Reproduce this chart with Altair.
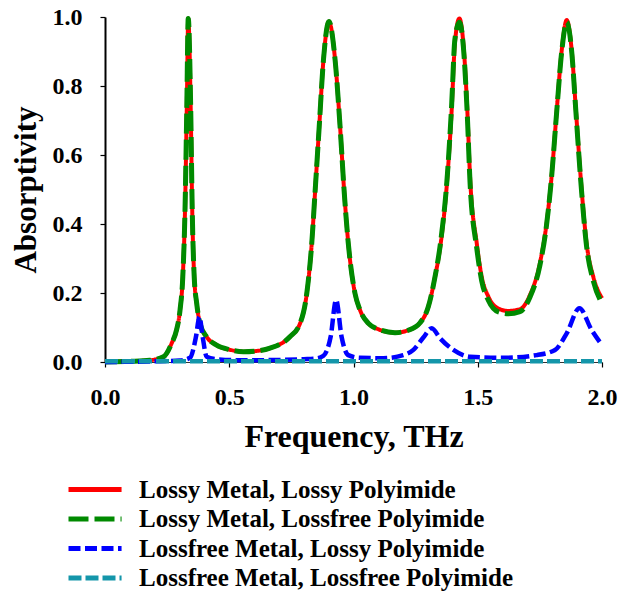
import altair as alt
import pandas as pd

# Series names
S1 = "Lossy Metal, Lossy Polyimide"
S2 = "Lossy Metal, Lossfree Polyimide"
S3 = "Lossfree Metal, Lossy Polyimide"
S4 = "Lossfree Metal, Lossfree Polyimide"

# Lossy metal curves (shared frequency grid), THz
freq_lossy = [0.00, 0.10, 0.18, 0.235, 0.268, 0.288, 0.302, 0.313, 0.322, 0.329,
              0.335, 0.345, 0.351, 0.359, 0.369, 0.382, 0.409, 0.449, 0.50, 0.557,
              0.61, 0.664, 0.744, 0.785, 0.812, 0.832, 0.845, 0.862, 0.879, 0.901,
              0.926, 0.946, 0.963, 0.979, 1.006, 1.026, 1.06, 1.10, 1.167, 1.22,
              1.268, 1.301, 1.328, 1.351, 1.378, 1.395, 1.408, 1.426, 1.442, 1.458,
              1.469, 1.496, 1.516, 1.543, 1.583, 1.623, 1.670, 1.710, 1.750, 1.777,
              1.797, 1.818, 1.838, 1.858, 1.878, 1.895, 1.914, 1.938, 1.965, 2.000]
abs_lossy_lossy = [0.000, 0.002, 0.005, 0.015, 0.054, 0.093, 0.151, 0.247, 0.441, 0.730,
                   0.996, 0.730, 0.441, 0.247, 0.170, 0.112, 0.073, 0.049, 0.036, 0.030,
                   0.032, 0.040, 0.073, 0.112, 0.199, 0.344, 0.489, 0.682, 0.875, 0.987,
                   0.875, 0.682, 0.489, 0.344, 0.199, 0.151, 0.112, 0.095, 0.085, 0.092,
                   0.114, 0.160, 0.247, 0.344, 0.537, 0.730, 0.924, 0.996, 0.924, 0.730,
                   0.537, 0.344, 0.247, 0.189, 0.155, 0.148, 0.153, 0.194, 0.286, 0.402,
                   0.537, 0.730, 0.904, 0.991, 0.904, 0.730, 0.537, 0.344, 0.247, 0.185]
abs_lossy_lossfree = [0.000, 0.002, 0.005, 0.015, 0.054, 0.093, 0.151, 0.247, 0.441, 0.730,
                      0.996, 0.730, 0.441, 0.247, 0.170, 0.112, 0.073, 0.049, 0.036, 0.030,
                      0.032, 0.040, 0.073, 0.112, 0.199, 0.344, 0.489, 0.682, 0.875, 0.987,
                      0.875, 0.682, 0.489, 0.344, 0.199, 0.151, 0.112, 0.095, 0.085, 0.092,
                      0.114, 0.160, 0.247, 0.350, 0.545, 0.745, 0.935, 0.985, 0.915, 0.715,
                      0.520, 0.330, 0.235, 0.178, 0.145, 0.140, 0.146, 0.188, 0.280, 0.398,
                      0.535, 0.728, 0.900, 0.985, 0.900, 0.725, 0.530, 0.335, 0.235, 0.170]

# Lossfree metal, lossy polyimide
freq_lf_lossy = [0.00, 0.20, 0.30, 0.342, 0.366, 0.380, 0.393, 0.409, 0.45, 0.55,
                 0.70, 0.80, 0.85, 0.879, 0.908, 0.930, 0.952, 0.979, 1.026, 1.12,
                 1.20, 1.241, 1.281, 1.315, 1.348, 1.402, 1.469, 1.60, 1.737, 1.811,
                 1.858, 1.909, 1.958, 2.000]
abs_lf_lossy = [0.000, 0.002, 0.004, 0.012, 0.073, 0.131, 0.073, 0.015, 0.008, 0.005,
                0.006, 0.008, 0.010, 0.018, 0.073, 0.180, 0.073, 0.020, 0.012, 0.011,
                0.020, 0.035, 0.071, 0.098, 0.069, 0.035, 0.015, 0.012, 0.020, 0.035,
                0.083, 0.156, 0.093, 0.049]

# Lossfree metal, lossfree polyimide
freq_lf_lf = [0.0, 0.5, 1.0, 1.5, 2.0]
abs_lf_lf = [0.002, 0.002, 0.002, 0.002, 0.002]

series_names = [S1, S2, S3, S4]
series_colors = ["#ff0000", "#008a00", "#0000ff", "#1496aa"]
series_dash = [[1, 0], [20, 6], [12, 4.5], [13, 4]]
series_width = [4, 5, 4.5, 4.5]

rows = []
for f, a in zip(freq_lossy, abs_lossy_lossy):
    rows.append({"freq": f, "absorb": a, "series": S1})
for f, a in zip(freq_lossy, abs_lossy_lossfree):
    rows.append({"freq": f, "absorb": a, "series": S2})
for f, a in zip(freq_lf_lossy, abs_lf_lossy):
    rows.append({"freq": f, "absorb": a, "series": S3})
for f, a in zip(freq_lf_lf, abs_lf_lf):
    rows.append({"freq": f, "absorb": a, "series": S4})
df = pd.DataFrame(rows)

FONT = "Liberation Serif"

x_enc = alt.X(
    "freq:Q",
    scale=alt.Scale(domain=[0, 2], nice=False, zero=False),
    axis=alt.Axis(values=[0, 0.5, 1.0, 1.5, 2.0], format=".1f", title="Frequency, THz",
                  domainWidth=1.2, domainColor="#333333", titlePadding=12,
                  labelFlush=False, titleFontSize=32),
)
y_enc = alt.Y(
    "absorb:Q",
    scale=alt.Scale(domain=[0, 1], nice=False),
    axis=alt.Axis(values=[0, 0.2, 0.4, 0.6, 0.8, 1.0], format=".1f", title="Absorptivity",
                  domainWidth=2, domainColor="black", titlePadding=10, titleFontSize=31),
)
color_enc = alt.Color(
    "series:N",
    scale=alt.Scale(domain=series_names, range=series_colors),
    title=None,
)
dash_enc = alt.StrokeDash(
    "series:N",
    scale=alt.Scale(domain=series_names, range=series_dash),
    title=None,
)

layers = []
for name, w in zip(series_names, series_width):
    layers.append(
        alt.Chart(df)
        .transform_filter(alt.datum.series == name)
        .mark_line(strokeWidth=w, interpolate="monotone", strokeCap="butt", strokeJoin="round")
        .encode(x=x_enc, y=y_enc, color=color_enc, strokeDash=dash_enc)
    )

chart = (
    alt.layer(*layers)
    .properties(
        width=497,
        height=345,
        autosize=alt.AutoSizeParams(type="none"),
        padding={"left": 105, "top": 17, "right": 26, "bottom": 232},
    )
    .configure_view(stroke=None)
    .configure_axis(
        grid=False,
        tickColor="black",
        tickSize=5,
        tickWidth=1.2,
        labelFont=FONT,
        labelFontSize=24,
        labelFontWeight="bold",
        labelColor="black",
        labelPadding=18,
        titleFont=FONT,
        titleFontWeight="bold",
        titleColor="black",
    )
    .configure_legend(
        orient="none",
        legendX=-49,
        legendY=460,
        direction="vertical",
        symbolType="M0,0H8",
        symbolSize=176,
        symbolStrokeWidth=5,
        labelFont=FONT,
        labelFontSize=25,
        labelFontWeight="bold",
        labelColor="black",
        labelLimit=600,
        labelOffset=58,
        rowPadding=3.5,
        padding=0,
    )
)

chart.save("out.html", embed_options={"renderer": "svg", "actions": False})
